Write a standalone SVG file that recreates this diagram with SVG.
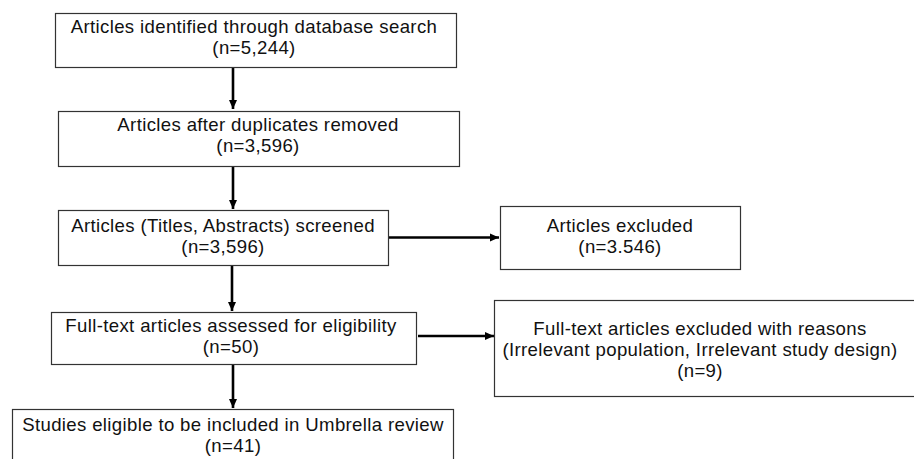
<svg xmlns="http://www.w3.org/2000/svg" width="914" height="459" viewBox="0 0 914 459">
<style>
.box{fill:#fff;stroke:#333;stroke-width:1.2}
.t{font-family:"Liberation Sans",Arial,sans-serif;font-size:18.6px;letter-spacing:0.35px;fill:#111;text-anchor:middle}
.c{stroke:#000;stroke-width:2.6;fill:none}
</style>
<defs>
<marker id="ah" markerUnits="userSpaceOnUse" markerWidth="10" markerHeight="10" viewBox="0 0 10 10" refX="9" refY="5" orient="auto">
<path d="M0,1 L9,5 L0,9 Z" fill="#000"/>
</marker>
</defs>
<rect width="914" height="459" fill="#fff"/>
<g id="connectors">
<line class="c" x1="233" y1="68" x2="233" y2="109" marker-end="url(#ah)"/>
<line class="c" x1="233" y1="167" x2="233" y2="209" marker-end="url(#ah)"/>
<line class="c" x1="389" y1="237.5" x2="499" y2="237.5" marker-end="url(#ah)"/>
<line class="c" x1="232" y1="266" x2="232" y2="311" marker-end="url(#ah)"/>
<line class="c" x1="418" y1="336" x2="494" y2="336" marker-end="url(#ah)"/>
<line class="c" x1="233" y1="365" x2="233" y2="408" marker-end="url(#ah)"/>
</g>
<g id="n1"><rect class="box" x="55.5" y="13.5" width="401" height="54"/>
<text class="t"><tspan x="254" y="33">Articles identified through database search</tspan><tspan x="254" y="54">(n=5,244)</tspan></text></g>
<g id="n2"><rect class="box" x="58.5" y="111.5" width="401" height="55"/>
<text class="t"><tspan x="258" y="131">Articles after duplicates removed</tspan><tspan x="258" y="152">(n=3,596)</tspan></text></g>
<g id="n3"><rect class="box" x="58.5" y="210.5" width="330" height="55"/>
<text class="t"><tspan x="223" y="232">Articles (Titles, Abstracts) screened</tspan><tspan x="223" y="253">(n=3,596)</tspan></text></g>
<g id="n4"><rect class="box" x="500.5" y="206.5" width="240" height="63"/>
<text class="t"><tspan x="620" y="232">Articles excluded</tspan><tspan x="620" y="253">(n=3.546)</tspan></text></g>
<g id="n5"><rect class="box" x="51.5" y="312.5" width="365" height="52"/>
<text class="t"><tspan x="231" y="332">Full-text articles assessed for eligibility</tspan><tspan x="231" y="353">(n=50)</tspan></text></g>
<g id="n6"><rect class="box" x="494.5" y="300.5" width="430" height="96"/>
<text class="t"><tspan x="700" y="335">Full-text articles excluded with reasons</tspan><tspan x="700" y="356">(Irrelevant population, Irrelevant study design)</tspan><tspan x="700" y="377">(n=9)</tspan></text></g>
<g id="n7"><rect class="box" x="12.5" y="409.5" width="441" height="60"/>
<text class="t"><tspan x="233" y="431">Studies eligible to be included in Umbrella review</tspan><tspan x="233" y="452">(n=41)</tspan></text></g>
</svg>
